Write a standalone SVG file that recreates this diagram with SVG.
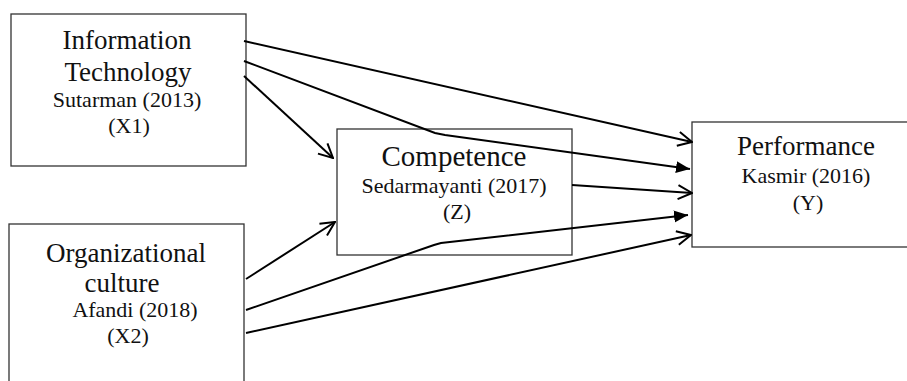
<svg xmlns="http://www.w3.org/2000/svg" width="907" height="381" viewBox="0 0 907 381">
<style>
.box{fill:#fff;stroke:#333;stroke-width:1.3}
.t{font-family:"Liberation Serif","Times New Roman",serif;fill:#111;text-anchor:middle}
.big{font-size:27px}
.sm{font-size:22px}
.c{fill:none;stroke:#000;stroke-width:2}
</style>
<defs>
<marker id="open" viewBox="0 0 16 16" markerWidth="16" markerHeight="16" refX="15" refY="8" orient="auto" markerUnits="userSpaceOnUse">
<path d="M1,1 L15,8 L1,15" fill="none" stroke="#000" stroke-width="2"/>
</marker>
<marker id="fill" viewBox="0 0 14 14" markerWidth="14" markerHeight="14" refX="14" refY="7" orient="auto" markerUnits="userSpaceOnUse">
<path d="M0,1 L14,7 L0,13 z" fill="#000"/>
</marker>
</defs>
<g id="X1">
<rect class="box" x="11" y="14" width="235" height="152"/>
<text class="t big" x="127" y="49">Information</text>
<text class="t big" x="128" y="81">Technology</text>
<text class="t sm" x="127" y="107">Sutarman (2013)</text>
<text class="t sm" x="129" y="133">(X1)</text>
</g>
<g id="X2">
<rect class="box" x="9" y="224" width="235" height="170"/>
<text class="t big" x="126" y="262">Organizational</text>
<text class="t big" x="122" y="292">culture</text>
<text class="t sm" x="135" y="317">Afandi (2018)</text>
<text class="t sm" x="128" y="343">(X2)</text>
</g>
<g id="Z">
<rect class="box" x="337" y="129" width="235" height="126"/>
<text class="t" style="font-size:29px" x="454" y="166">Competence</text>
<text class="t sm" x="454" y="193">Sedarmayanti (2017)</text>
<text class="t sm" x="457" y="219">(Z)</text>
</g>
<g id="Y">
<rect class="box" x="692" y="122" width="230" height="125"/>
<text class="t big" x="806" y="155">Performance</text>
<text class="t sm" x="806" y="183">Kasmir (2016)</text>
<text class="t sm" x="808" y="210">(Y)</text>
</g>
<g id="connectors">
<line class="c" x1="244" y1="41" x2="692" y2="142" marker-end="url(#open)"/>
<polyline class="c" points="244,61 435,133 445,135 690,169" marker-end="url(#fill)"/>
<line class="c" x1="244" y1="76" x2="333" y2="158" marker-end="url(#open)"/>
<line class="c" x1="572" y1="185" x2="692" y2="193" marker-end="url(#open)"/>
<line class="c" x1="246" y1="279" x2="335" y2="222" marker-end="url(#open)"/>
<polyline class="c" points="246,310 434,245 441,243 688,215" marker-end="url(#fill)"/>
<line class="c" x1="246" y1="333" x2="691" y2="235" marker-end="url(#open)"/>
</g>
</svg>
